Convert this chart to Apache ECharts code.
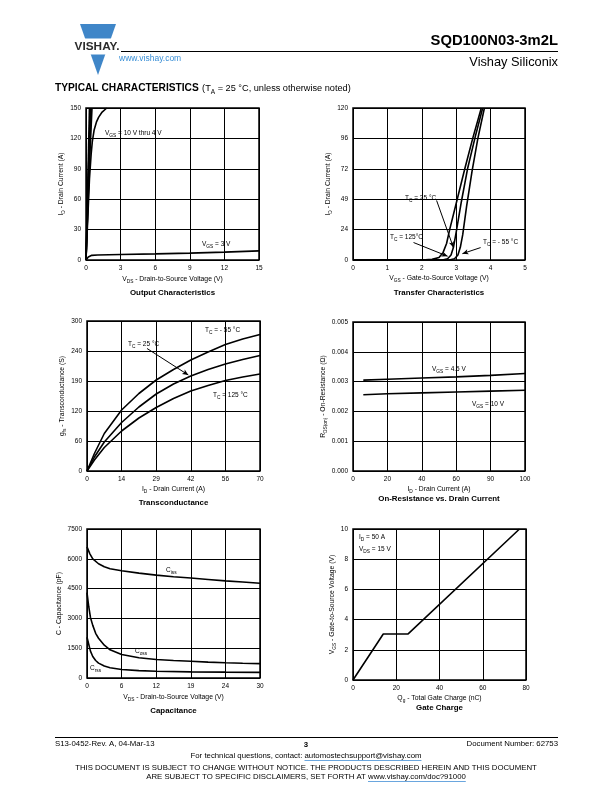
<!DOCTYPE html>
<html><head><meta charset="utf-8">
<script src="https://cdn.jsdelivr.net/npm/echarts@6/dist/echarts.min.js"></script>
<style>html,body{margin:0;padding:0;background:#fff}#c{width:612px;height:792px}</style>
</head><body><div id="c"></div>
<script>
// ---------- DATA ----------
// Output characteristics (VDS V, ID A)
const outVgs10 = [[0,0],[0.3,150]];
const outVgs7 = [[0,0],[0.37,150]];
const outVgs6 = [[0,0],[0.44,150]];
const outVgs5 = [[0,0],[0.3,95],[0.52,150]];
const outVgs4 = [[0,0],[0.3,80],[0.45,105],[0.55,117],[0.7,128],[0.9,136],[1.1,141],[1.4,146],[1.8,150]];
const outVgs3 = [[0,0],[0.2,3],[0.5,4.6],[1,5],[3,5.4],[6,6],[9,6.8],[12,7.8],[15,9]];
const outXTicks = ['0','3','6','9','12','15'];
const outYTicks = ['0','30','60','90','120','150'];
// Transfer characteristics (VGS V, ID A)
const trM55 = [[0,0],[2.8,0],[2.95,1],[3.05,4],[3.12,10],[3.19,20],[3.3,42],[3.46,70],[3.63,96],[3.82,120]];
const tr25 = [[0,0],[2.6,0],[2.75,1],[2.85,4],[2.92,10],[3.0,22],[3.15,46],[3.33,72],[3.56,98],[3.77,120]];
const tr125 = [[0,0],[2.0,0],[2.3,0.5],[2.5,2],[2.62,6],[2.72,13],[2.81,24],[3.03,48],[3.25,72],[3.48,96],[3.73,120]];
const trXTicks = ['0','1','2','3','4','5'];
const trYTicks = ['0','24','49','72','96','120'];
// Transconductance (ID A, gfs S)
const gfsM55 = [[0,0],[3,35],[7,75],[14,122],[21,155],[28,182],[35,203],[42,222],[49,238],[56,253],[63,264],[70,273]];
const gfs25 = [[0,0],[3,28],[7,58],[14,97],[21,128],[28,154],[35,174],[42,190],[49,203],[56,214],[63,223],[70,231]];
const gfs125 = [[0,0],[3,22],[7,47],[14,80],[21,106],[28,127],[35,145],[42,160],[49,171],[56,181],[63,188],[70,194]];
const gfsXTicks = ['0','14','29','42','56','70'];
const gfsYTicks = ['0','60','120','190','240','300'];
// On-resistance (ID A, RDS(on) ohm)
const ronVgs45 = [[6,0.00305],[20,0.00308],[40,0.00312],[60,0.00316],[80,0.00321],[100,0.00327]];
const ronVgs10 = [[6,0.00256],[20,0.00259],[40,0.00262],[60,0.00265],[80,0.00268],[100,0.00271]];
const ronXTicks = ['0','20','40','60','90','100'];
const ronYTicks = ['0.000','0.001','0.002','0.003','0.004','0.005'];
// Capacitance (VDS V, C pF)
const capCiss = [[0,6600],[0.5,6250],[1,6000],[2,5750],[3,5600],[4,5500],[6,5400],[9,5280],[12,5180],[15,5100],[18,5030],[21,4960],[24,4890],[27,4830],[30,4770]];
const capCoss = [[0,4300],[0.3,3600],[0.6,3050],[1,2650],[1.5,2250],[2,2000],[3,1650],[4,1420],[6,1180],[9,1020],[12,930],[15,880],[18,840],[21,800],[24,770],[27,745],[30,725]];
const capCrss = [[0,2050],[0.3,1700],[0.6,1350],[1,1080],[1.5,880],[2,750],[3,600],[4,520],[6,430],[9,370],[12,340],[18,310],[24,295],[30,285]];
const capXTicks = ['0','6','12','19','24','30'];
const capYTicks = ['0','1500','3000','4500','6000','7500'];
// Gate charge (Qg nC, VGS V)
const gateCharge = [[0,0],[14,3.05],[25.5,3.05],[77,10]];
const gcXTicks = ['0','20','40','60','80'];
const gcYTicks = ['0','2','4','6','8','10'];

// ---------- CHART ----------
const F = '"Liberation Sans", Arial, sans-serif';
const RICH = { s: { fontSize: 4.8, lineHeight: 5, padding: [5,0,0,0], fontFamily: F, color: '#000' } };
const chart = echarts.init(document.getElementById('c'), null, {renderer:'canvas'});
const mctx = document.createElement('canvas').getContext('2d');
function tw(str, size) { mctx.font = size + 'px ' + F; return mctx.measureText(str).width; }

const grids = [
  {left:86, top:108, width:173, height:152},
  {left:353, top:108, width:172, height:152},
  {left:87, top:321, width:173, height:150},
  {left:353, top:322, width:172, height:149},
  {left:87, top:529, width:173, height:149},
  {left:353, top:529, width:173, height:151}
].map(g => Object.assign({show:true, borderColor:'#000', borderWidth:1.5, backgroundColor:'transparent'}, g));

function xAx(gi, min, max, interval, labels, name, gap) {
  return {gridIndex:gi, type:'value', min, max, interval, name, nameLocation:'middle', nameGap:gap,
    nameTextStyle:{fontSize:6.8, lineHeight:9, color:'#000', fontFamily:F, rich:RICH},
    axisLine:{show:false}, axisTick:{show:false},
    splitLine:{show:true, lineStyle:{color:'#000', width:1}},
    axisLabel:{fontSize:6.5, color:'#000', fontFamily:F, margin:5, formatter: v => labels[Math.round((v-min)/interval)]}};
}
function yAx(gi, min, max, interval, labels, name, gap) {
  return {gridIndex:gi, type:'value', min, max, interval, name, nameLocation:'middle', nameGap:gap, nameRotate:90,
    nameTextStyle:{fontSize:6.8, lineHeight:9, color:'#000', fontFamily:F, rich:RICH},
    axisLine:{show:false}, axisTick:{show:false},
    splitLine:{show:true, lineStyle:{color:'#000', width:1}},
    axisLabel:{fontSize:6.5, color:'#000', fontFamily:F, margin:5, formatter: v => labels[Math.round((v-min)/interval)]}};
}
function ln(gi, data, extra) {
  return Object.assign({type:'line', xAxisIndex:gi, yAxisIndex:gi, data, showSymbol:false, symbol:'none',
    lineStyle:{color:'#000', width:1.6}, silent:true, clip:true}, extra||{});
}
function arrows(list) {
  return {markLine:{silent:true, symbol:['none','arrow'], symbolSize:[4,6], animation:false,
    lineStyle:{color:'#000', width:1, type:'solid'}, label:{show:false},
    data: list.map(a => [{coord:a[0]},{coord:a[1]}])}};
}

const series = [
  ln(0,outVgs10), ln(0,outVgs7), ln(0,outVgs6), ln(0,outVgs5), ln(0,outVgs4), ln(0,outVgs3),
  ln(1,trM55, arrows([[[3.71,9.8],[3.18,5]]])),
  ln(1,tr25, arrows([[[2.43,47],[2.92,9.8]]])),
  ln(1,tr125, arrows([[[1.76,13.8],[2.75,3]]])),
  ln(2,gfsM55), ln(2,gfs25, arrows([[[24.3,245],[41,192]]])), ln(2,gfs125),
  ln(3,ronVgs45), ln(3,ronVgs10),
  ln(4,capCiss), ln(4,capCoss), ln(4,capCrss),
  ln(5,gateCharge)
];

function txt(x, y, text, opts) {
  return {type:'text', x, y, silent:true, style:Object.assign({text, fill:'#000', fontSize:6.5, fontFamily:F,
    textVerticalAlign:'middle', verticalAlign:'middle', lineHeight:9, rich:RICH}, opts||{})};
}

// footer link geometry measured from text
const FS = 7.8;
const techA = 'For technical questions, contact: ', techB = 'automostechsupport@vishay.com';
const techW = tw(techA, FS) + tw(techB, FS);
const techX0 = 306 - techW/2 + tw(techA, FS);
const discA = 'ARE SUBJECT TO SPECIFIC DISCLAIMERS, SET FORTH AT ', discB = 'www.vishay.com/doc?91000';
const discW = tw(discA, FS) + tw(discB, FS);
const discX0 = 306 - discW/2 + tw(discA, FS);
const LINK = '#2a7fd0';

const graphics = [
  // logo
  {type:'polygon', shape:{points:[[80,24],[116,24],[98,75]]}, style:{fill:'#3f86c8'}},
  {type:'rect', shape:{x:72, y:38.5, width:48, height:16}, style:{fill:'#fff'}},
  txt(97, 47, 'VISHAY.', {fontSize:11.8, fontWeight:'bold', fill:'#2b2b2b', textAlign:'center', align:'center'}),
  // header
  txt(558, 41, 'SQD100N03-3m2L', {fontSize:14.8, fontWeight:'bold', textAlign:'right', align:'right'}),
  {type:'line', shape:{x1:121, y1:51.5, x2:558, y2:51.5}, style:{stroke:'#000', lineWidth:1}},
  txt(119, 58.5, 'www.vishay.com', {fontSize:8.5, fill:'#3a8fd6'}),
  txt(558, 62, 'Vishay Siliconix', {fontSize:12.8, textAlign:'right', align:'right'}),
  {type:'text', x:55, y:88, style:{text:'{b|TYPICAL CHARACTERISTICS} {n|(T}{s|A}{n| = 25 °C, unless otherwise noted)}', fill:'#000', fontFamily:F, verticalAlign:'middle', rich:{
    b:{fontSize:10.2, fontWeight:'bold', fontFamily:F, lineHeight:12, color:'#000'},
    n:{fontSize:9.2, fontFamily:F, lineHeight:12, color:'#000'},
    s:{fontSize:6.5, fontFamily:F, lineHeight:6, padding:[8,0,0,0], color:'#000'}}}},
  // chart 1 annotations
  txt(105, 133, 'V{s|GS} = 10 V thru 4 V'),
  txt(202, 244, 'V{s|GS} = 3 V'),
  // chart 2
  txt(405, 198, 'T{s|C} = 25 °C'),
  txt(390, 237, 'T{s|C} = 125°C'),
  txt(483, 242, 'T{s|C} = - 55 °C'),
  // chart 3
  txt(205, 330, 'T{s|C} = - 55 °C'),
  txt(128, 344, 'T{s|C} = 25 °C'),
  txt(213, 395, 'T{s|C} = 125 °C'),
  // chart 4
  txt(432, 369, 'V{s|GS} = 4.5 V'),
  txt(472, 404, 'V{s|GS} = 10 V'),
  // chart 5
  txt(166, 570, 'C{s|iss}'),
  txt(135, 651, 'C{s|oss}'),
  txt(90, 668, 'C{s|rss}'),
  // chart 6
  txt(359, 537, 'I{s|D} = 50 A'),
  txt(359, 549, 'V{s|DS} = 15 V'),
  // chart titles
  txt(172.5, 293, 'Output Characteristics', {fontSize:7.9, fontWeight:'bold', textAlign:'center', align:'center'}),
  txt(439, 293, 'Transfer Characteristics', {fontSize:7.9, fontWeight:'bold', textAlign:'center', align:'center'}),
  txt(173.5, 503, 'Transconductance', {fontSize:7.9, fontWeight:'bold', textAlign:'center', align:'center'}),
  txt(439, 499, 'On-Resistance vs. Drain Current', {fontSize:7.9, fontWeight:'bold', textAlign:'center', align:'center'}),
  txt(173.5, 711, 'Capacitance', {fontSize:7.9, fontWeight:'bold', textAlign:'center', align:'center'}),
  txt(439.5, 708, 'Gate Charge', {fontSize:7.9, fontWeight:'bold', textAlign:'center', align:'center'}),
  // footer
  {type:'line', shape:{x1:55, y1:737.5, x2:558, y2:737.5}, style:{stroke:'#000', lineWidth:1}},
  txt(55, 744, 'S13-0452-Rev. A, 04-Mar-13', {fontSize:FS}),
  txt(306, 745, '3', {fontSize:FS, fontWeight:'bold', textAlign:'center', align:'center'}),
  txt(558, 744, 'Document Number: 62753', {fontSize:FS, textAlign:'right', align:'right'}),
  txt(306, 756, '{n|' + techA + '}{l|' + techB + '}', {textAlign:'center', align:'center', rich:{
    n:{fontSize:FS, fontFamily:F, color:'#000'}, l:{fontSize:FS, fontFamily:F, color:LINK}}}),
  {type:'line', shape:{x1:techX0, y1:760.5, x2:techX0 + tw(techB, FS), y2:760.5}, style:{stroke:LINK, lineWidth:0.7}},
  txt(306, 768, 'THIS DOCUMENT IS SUBJECT TO CHANGE WITHOUT NOTICE. THE PRODUCTS DESCRIBED HEREIN AND THIS DOCUMENT', {fontSize:FS, textAlign:'center', align:'center'}),
  txt(306, 777, '{n|' + discA + '}{l|' + discB + '}', {textAlign:'center', align:'center', rich:{
    n:{fontSize:FS, fontFamily:F, color:'#000'}, l:{fontSize:FS, fontFamily:F, color:LINK}}}),
  {type:'line', shape:{x1:discX0, y1:781.5, x2:discX0 + tw(discB, FS), y2:781.5}, style:{stroke:LINK, lineWidth:0.7}}
];

chart.setOption({
  animation:false,
  backgroundColor:'#fff',
  grid: grids,
  xAxis: [
    xAx(0,0,15,3,outXTicks,'V{s|DS} - Drain-to-Source Voltage (V)',15),
    xAx(1,0,5,1,trXTicks,'V{s|GS} - Gate-to-Source Voltage (V)',12),
    xAx(2,0,70,14,gfsXTicks,'I{s|D} - Drain Current (A)',14),
    xAx(3,0,100,20,ronXTicks,'I{s|D} - Drain Current (A)',13),
    xAx(4,0,30,6,capXTicks,'V{s|DS} - Drain-to-Source Voltage (V)',15),
    xAx(5,0,80,20,gcXTicks,'Q{s|g} - Total Gate Charge (nC)',13)
  ],
  yAxis: [
    yAx(0,0,150,30,outYTicks,'I{s|D} - Drain Current (A)',17),
    yAx(1,0,120,24,trYTicks,'I{s|D} - Drain Current (A)',17),
    yAx(2,0,300,60,gfsYTicks,'g{s|fs} - Transconductance (S)',18),
    yAx(3,0,0.005,0.001,ronYTicks,'R{s|DS(on)} - On-Resistance (Ω)',25),
    yAx(4,0,7500,1500,capYTicks,'C - Capacitance (pF)',19),
    yAx(5,0,10,2,gcYTicks,'V{s|GS} - Gate-to-Source Voltage (V)',15)
  ],
  series,
  graphic: graphics
});
</script></body></html>
